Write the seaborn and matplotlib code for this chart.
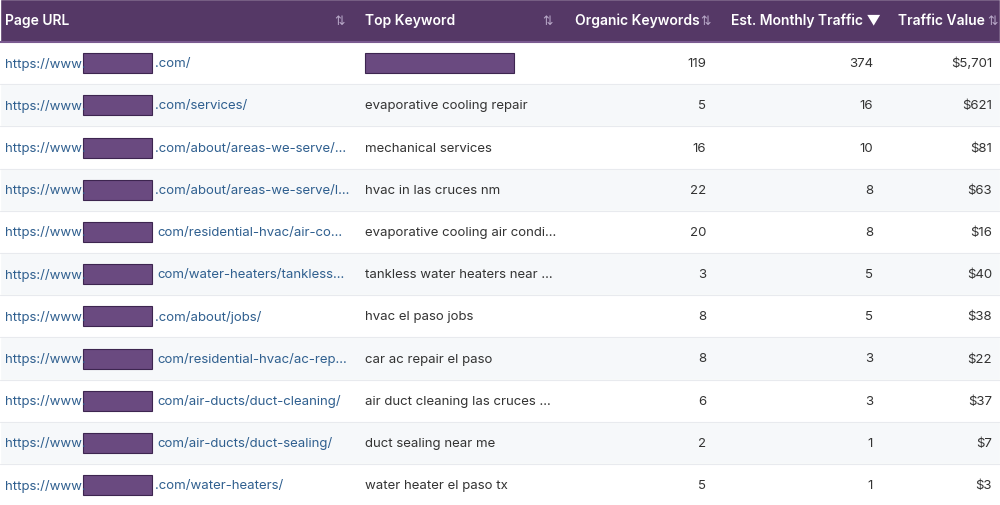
import matplotlib
matplotlib.use("Agg")
import matplotlib.pyplot as plt
import seaborn as sns

url_prefix = ["https://www."] * 11
url_suffix = [".com/", ".com/services/", ".com/about/areas-we-serve/...", ".com/about/areas-we-serve/l...",
              "com/residential-hvac/air-co...", "com/water-heaters/tankless...", ".com/about/jobs/",
              "com/residential-hvac/ac-rep...", "com/air-ducts/duct-cleaning/", "com/air-ducts/duct-sealing/",
              ".com/water-heaters/"]
keywords = [None, "evaporative cooling repair", "mechanical services", "hvac in las cruces nm",
            "evaporative cooling air condi...", "tankless water heaters near ...", "hvac el paso jobs",
            "car ac repair el paso", "air duct cleaning las cruces ...", "duct sealing near me",
            "water heater el paso tx"]
organic = [119, 5, 16, 22, 20, 3, 8, 8, 6, 2, 5]
traffic = [374, 16, 10, 8, 8, 5, 5, 3, 3, 1, 1]
value = ["$5,701", "$621", "$81", "$63", "$16", "$40", "$38", "$22", "$37", "$7", "$3"]
headers = ["Page URL", "Top Keyword", "Organic Keywords", "Est. Monthly Traffic \u25BC", "Traffic Value"]

sns.set_style("white")
plt.rcParams["font.family"] = ["Inter", "DejaVu Sans"]

fig = plt.figure(figsize=(10, 5.06), dpi=100)
ax = fig.add_axes([0, 0, 1, 1])
ax.set_xlim(0, 1000)
ax.set_ylim(506, 0)
ax.axis("off")

header_h = 43
row_h = 42.2
link = "#2f5f8f"
txt = "#333333"
redact = "#6a4a80"

# header
ax.barh(header_h / 2, 1000, height=header_h, left=0, color="#553866")
ax.axhline(header_h, color="#7a5a90", lw=1.5)
hs = dict(color="white", fontsize=10, fontweight="semibold", va="center")
ax.text(5, 21, headers[0], **hs)
ax.text(365, 21, headers[1], **hs)
ax.text(700, 21, headers[2], ha="right", **hs)
ax.text(881, 21, headers[3], ha="right", **hs)
ax.text(985, 21, headers[4], ha="right", **hs)
arr = dict(color="#b8a8c8", fontsize=9, va="center", family="DejaVu Sans")
for x in [340, 548, 706, 993]:
    ax.text(x, 21, "\u21C5", ha="center", **arr)

for i in range(len(organic)):
    y = header_h + row_h * (i + 0.5)
    ax.barh(y, 1000, height=row_h, left=0, color="white" if i % 2 == 0 else "#f6f8fa")
    ax.axhline(header_h + row_h * (i + 1), color="#e8eaee", lw=0.8)
    ax.text(5, y, url_prefix[i], color=link, fontsize=9.5, va="center")
    ax.barh(y, 69, height=20, left=83, color=redact, edgecolor="#3d2550", lw=0.8)
    ax.text(155 if url_suffix[i].startswith(".") else 157, y, url_suffix[i], color=link, fontsize=9.5, va="center")
    if keywords[i] is None:
        ax.barh(y, 149, height=20, left=365, color=redact, edgecolor="#3d2550", lw=0.8)
    else:
        ax.text(365, y, keywords[i], color=txt, fontsize=9.5, va="center")
    ax.text(706, y, str(organic[i]), color=txt, fontsize=9.5, va="center", ha="right")
    ax.text(873, y, str(traffic[i]), color=txt, fontsize=9.5, va="center", ha="right")
    ax.text(992, y, value[i], color=txt, fontsize=9.5, va="center", ha="right")

fig.savefig("out.png", dpi=100)
